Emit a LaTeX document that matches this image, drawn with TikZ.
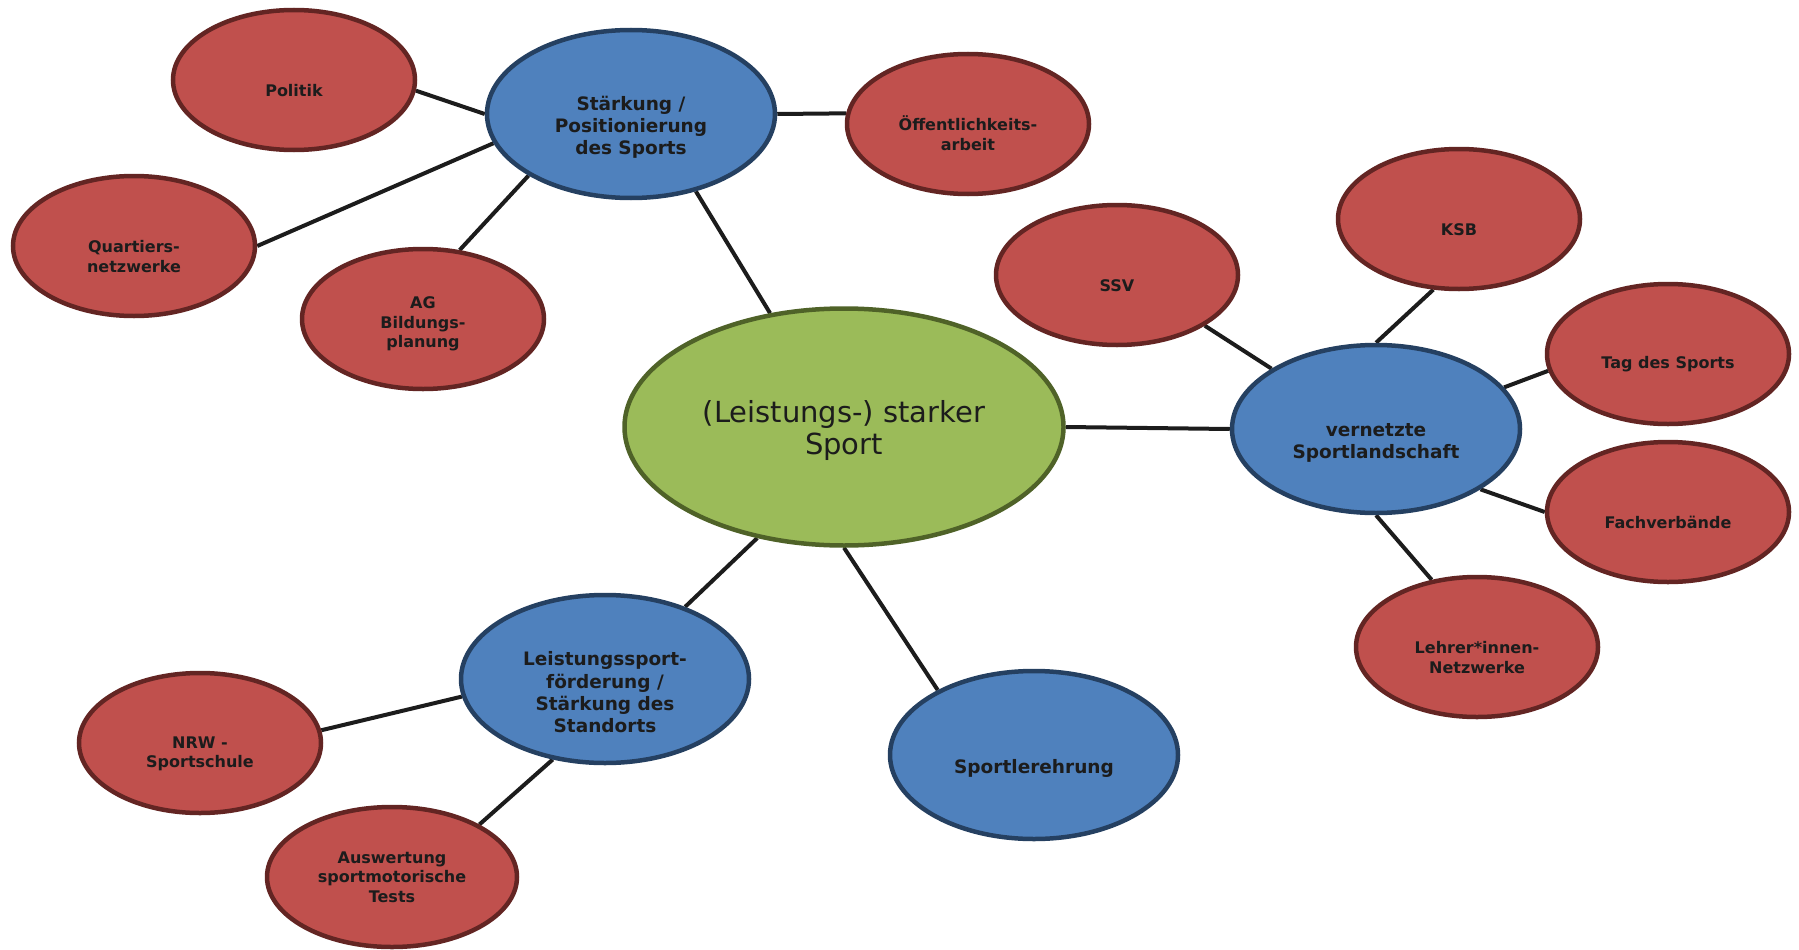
\documentclass[tikz,border=0pt]{standalone}
\usepackage{fontspec}
\setmainfont{DejaVu Sans}
\usetikzlibrary{shapes.geometric,backgrounds}
\definecolor{redfill}{HTML}{C0504D}
\definecolor{redline}{HTML}{632523}
\definecolor{bluefill}{HTML}{4F81BD}
\definecolor{blueline}{HTML}{254061}
\definecolor{greenfill}{HTML}{9BBB59}
\definecolor{greenline}{HTML}{4F6228}
\definecolor{ink}{HTML}{1C1C1C}
\newcommand\rlow{\rule{0pt}{33pt}}
\newcommand\blow{\rule{0pt}{41pt}}
\begin{document}
\begin{tikzpicture}[x=1pt,y=-1pt,
  redbub/.style={ellipse, draw=redline, fill=redfill, line width=4.5pt,
    minimum width=242pt, minimum height=140pt, inner sep=0pt, align=center,
    font=\fontsize{16}{19.5}\selectfont\bfseries, text=ink},
  bluebub/.style={ellipse, draw=blueline, fill=bluefill, line width=4.5pt,
    minimum width=288pt, minimum height=168pt, inner sep=0pt, align=center,
    font=\fontsize{18.5}{22.4}\selectfont\bfseries, text=ink},
  greenbub/.style={ellipse, draw=greenline, fill=greenfill, line width=4.5pt,
    minimum width=439pt, minimum height=237pt, inner sep=0pt, align=center,
    font=\fontsize{29}{32}\selectfont, text=ink},
  link/.style={draw=ink, line width=4pt}
]
\useasboundingbox (0,0) rectangle (1799,950);

\node[greenbub] (core) at (844,427) {\rule{0pt}{30pt}(Leistungs-) starker\\Sport};

\node[bluebub] (staerk) at (631,114) {\blow St\"arkung /\\Positionierung\\des Sports};
\node[bluebub] (vernetzt) at (1376,429) {\blow vernetzte\\Sportlandschaft};
\node[bluebub] (lsf) at (605,679) {\blow Leistungssport-\\f\"orderung /\\St\"arkung des\\Standorts};
\node[bluebub] (ehrung) at (1034,755) {\blow Sportlerehrung};

\node[redbub] (politik) at (294,80) {\rlow Politik};
\node[redbub] (oeff) at (968,124) {\rlow \"Offentlichkeits-\\arbeit};
\node[redbub] (quart) at (134,246) {\rlow Quartiers-\\netzwerke};
\node[redbub] (ag) at (423,319) {\rule{0pt}{22pt}AG\\Bildungs-\\planung};
\node[redbub] (ssv) at (1117,275) {\rlow SSV};
\node[redbub] (ksb) at (1459,219) {\rlow KSB};
\node[redbub] (tag) at (1668,354) {\rlow Tag des Sports};
\node[redbub] (fach) at (1668,512) {\rlow Fachverb\"ande};
\node[redbub] (lehrer) at (1477,647) {\rlow Lehrer*innen-\\Netzwerke};
\node[redbub] (nrw) at (200,743) {\rlow NRW -\\Sportschule};
\node[redbub, minimum width=250pt] (ausw) at (392,877) {Auswertung\\sportmotorische\\Tests};

\begin{pgfonlayer}{background}
\draw[link] (politik.-5) -- (staerk.180);
\draw[link] (quart.0) -- (staerk.192.7);
\draw[link] (ag.62.7) -- (staerk.211);
\draw[link] (staerk.0) -- (oeff.175);
\draw[link] (staerk.-50.7) -- (core.123.4);
\draw[link] (core.0) -- (vernetzt.180);
\draw[link] (core.232.3) -- (lsf.42.4);
\draw[link] (core.270) -- (ehrung.146);
\draw[link] (lsf.187) -- (nrw.6);
\draw[link] (lsf.237) -- (ausw.31.5);
\draw[link] (ssv.-30.6) -- (vernetzt.150);
\draw[link] (ksb.250) -- (vernetzt.90);
\draw[link] (vernetzt.18.3) -- (tag.188);
\draw[link] (vernetzt.-30.5) -- (fach.180);
\draw[link] (vernetzt.270) -- (lehrer.124.6);
\end{pgfonlayer}
\end{tikzpicture}
\end{document}
